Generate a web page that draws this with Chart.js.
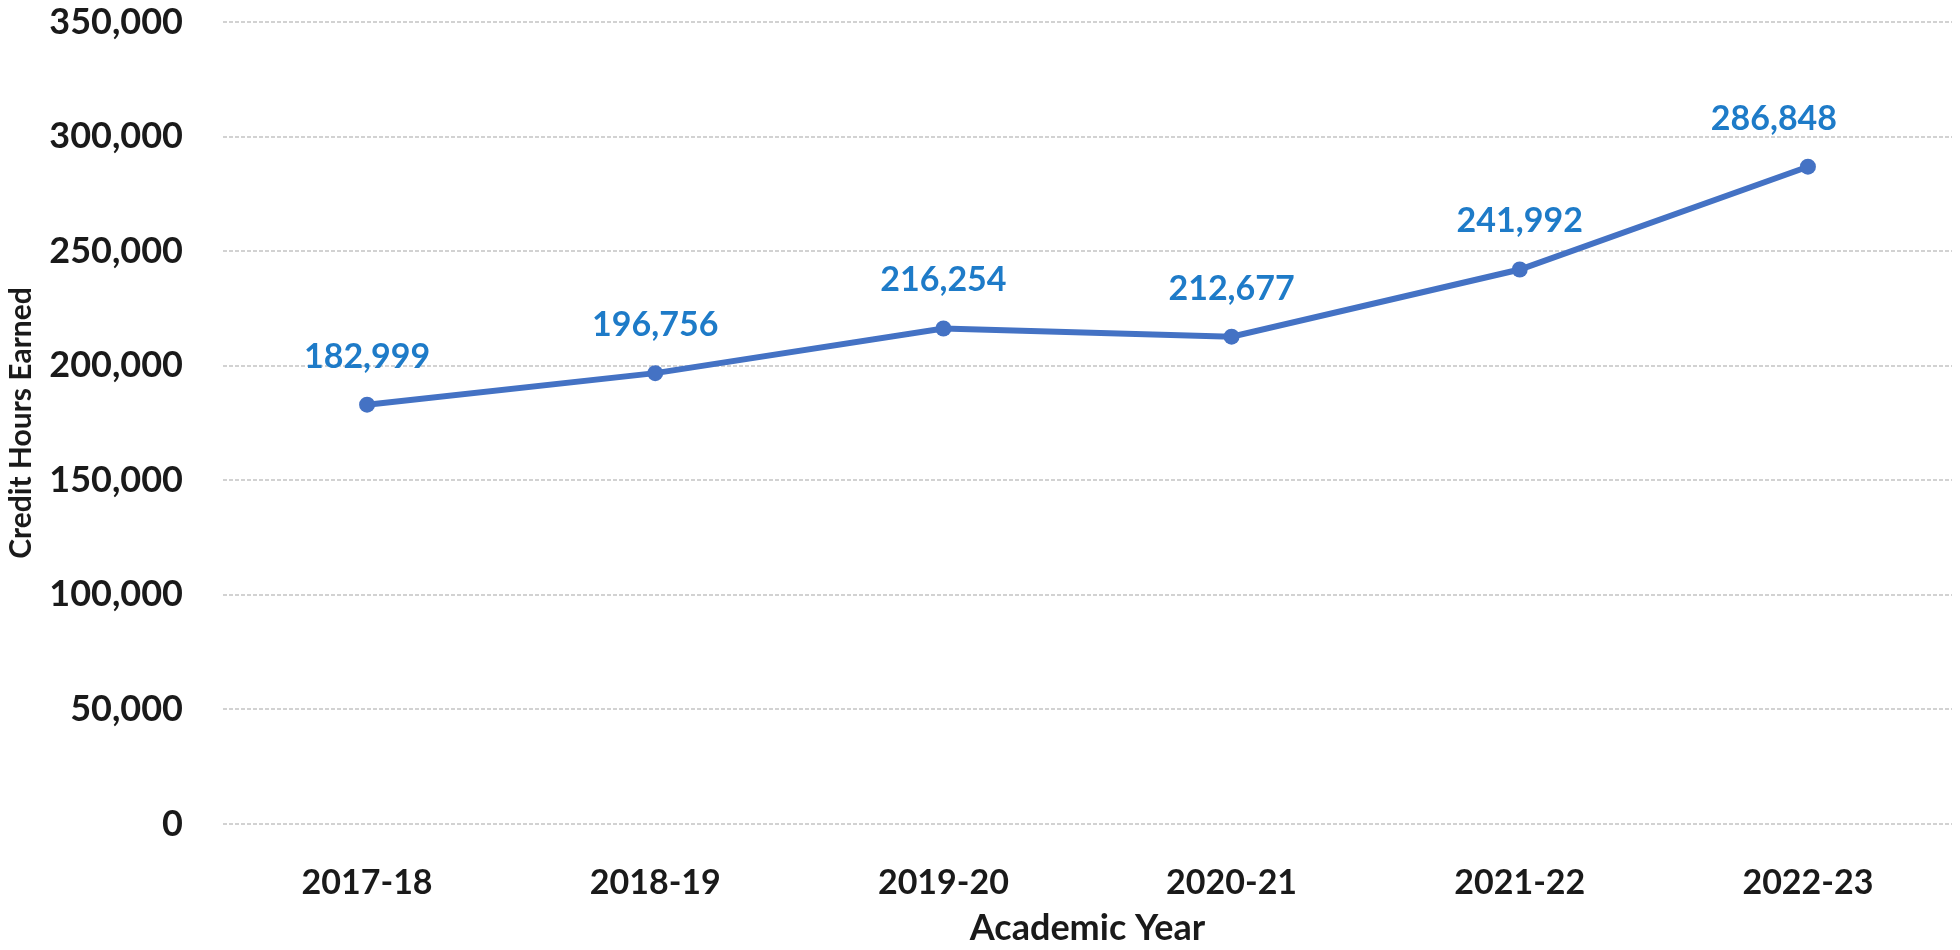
<!DOCTYPE html>
<html>
<head>
<meta charset="utf-8">
<script src="https://cdn.jsdelivr.net/npm/chart.js@4/dist/chart.umd.min.js"></script>
<style>
  html, body { margin:0; padding:0; background:#fff; }
  #wrap { width:1960px; height:950px; }
</style>
</head>
<body>
<div id="wrap"><canvas id="creditChart" width="1960" height="950"></canvas></div>
<script>
const years       = ['2017-18', '2018-19', '2019-20', '2020-21', '2021-22', '2022-23'];
const creditHours = [182999, 196756, 216254, 212677, 241992, 286848];
const yTicks      = [0, 50000, 100000, 150000, 200000, 250000, 300000, 350000];

const FONT = 'Lato, "Open Sans", sans-serif';
const fmt = v => v.toLocaleString('en-US');

// value labels above each point
const pointLabels = {
    id: 'pointLabels',
    afterDatasetsDraw(chart, args, opts) {
        const ctx = chart.ctx;
        const meta = chart.getDatasetMeta(0);
        const vals = chart.data.datasets[0].data;
        ctx.save();
        ctx.font = `bold ${opts.size}px ${FONT}`;
        ctx.fillStyle = opts.color;
        ctx.textAlign = 'center';
        ctx.textBaseline = 'middle';
        meta.data.forEach((pt, i) => {
            const dx = (opts.shiftX && opts.shiftX[i]) || 0;
            ctx.fillText(fmt(vals[i]), pt.x + dx, pt.y - opts.offset);
        });
        ctx.restore();
    }
};

new Chart(document.getElementById('creditChart').getContext('2d'), {
    type: 'line',
    data: {
        labels: years,
        datasets: [{
            data: creditHours,
            borderColor: '#4472C4',
            backgroundColor: '#4472C4',
            borderWidth: 6,
            pointRadius: 8,
            pointHoverRadius: 8,
            pointBorderWidth: 0,
            tension: 0
        }]
    },
    options: {
        responsive: false,
        animation: false,
        layout: { padding: { top: 22, right: 4, bottom: 0, left: 0 } },
        plugins: {
            legend: { display: false },
            tooltip: { enabled: false },
            pointLabels: { size: 34, color: '#1e7bc8', offset: 48, shiftX: [0, 0, 0, 0, 0, -34] }
        },
        scales: {
            x: {
                offset: true,
                grid: { display: false },
                border: { display: false },
                ticks: { color: '#1a1a1a', padding: 31, maxRotation: 0, font: { family: FONT, size: 34, weight: 'bold' } },
                title: { display: true, text: 'Academic Year', color: '#1a1a1a', padding: { top: 0, bottom: 0 },
                         font: { family: FONT, size: 36, weight: 'bold' } },
                afterFit: s => { s.height = 126; s.paddingLeft = 0; s.paddingRight = 0; }
            },
            y: {
                min: 0, max: 350000,
                afterBuildTicks: s => { s.ticks = yTicks.map(v => ({ value: v })); },
                grid: { color: '#d2d2d2', lineWidth: 2, drawTicks: false },
                border: { display: false, dash: [4, 2] },
                ticks: { color: '#1a1a1a', padding: 40, callback: v => fmt(v),
                         font: { family: FONT, size: 36, weight: 'bold' } },
                title: { display: true, text: 'Credit Hours Earned', color: '#1a1a1a', padding: { top: 3, bottom: 0 },
                         font: { family: FONT, size: 30, weight: 'bold' } },
                afterFit: s => { s.width = 223; s.paddingTop = 0; s.paddingBottom = 0; }
            }
        }
    },
    plugins: [pointLabels]
});
</script>
</body>
</html>
